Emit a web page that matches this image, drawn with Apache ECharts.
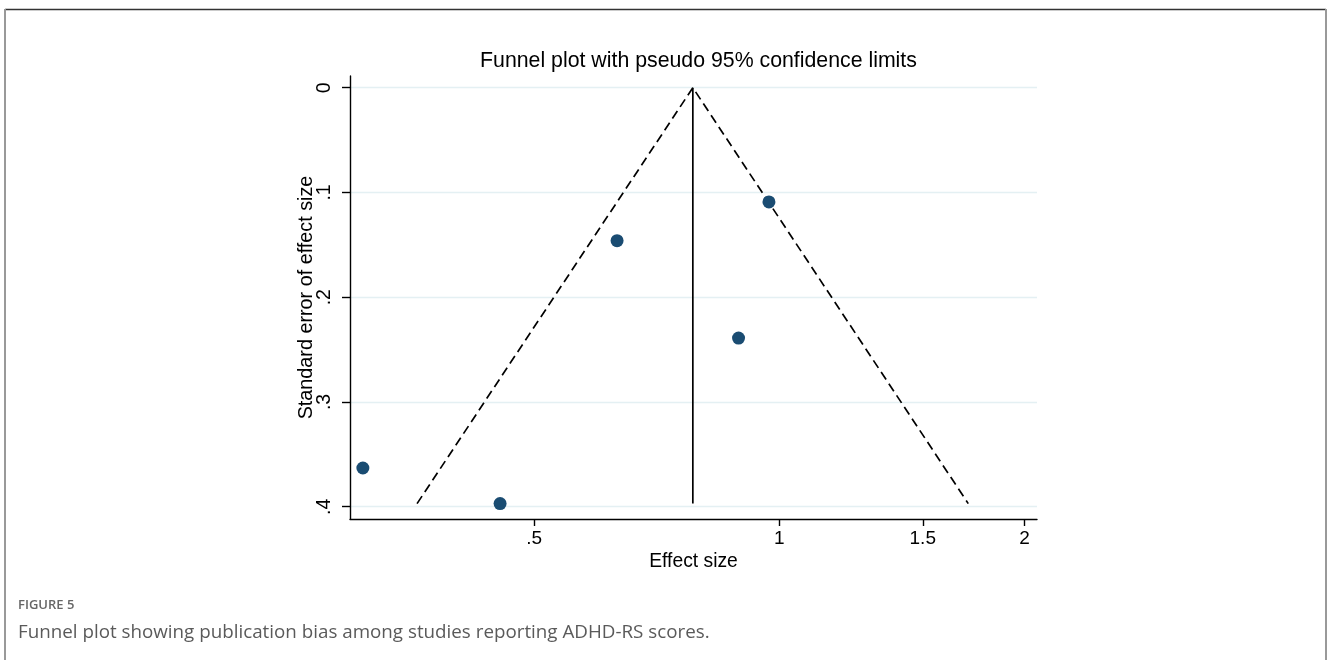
<!DOCTYPE html>
<html>
<head>
<meta charset="utf-8">
<script src="https://cdn.jsdelivr.net/npm/echarts@6/dist/echarts.min.js"></script>
<style>
  html, body { margin: 0; padding: 0; background: #fff; }
  #chart { width: 1328px; height: 660px; }
</style>
</head>
<body>
<div id="chart"></div>
<script>
// ---- data ----
const titleText = 'Funnel plot with pseudo 95% confidence limits';
const xAxisName = 'Effect size';
const yAxisName = 'Standard error of effect size';
const captionLabel = 'FIGURE 5';
const captionText = 'Funnel plot showing publication bias among studies reporting ADHD-RS scores.';

// studies: effect size (log-scaled axis) and standard error
const effectSizes = [0.308, 0.454, 0.632, 0.971, 0.891];
const standardErrors = [0.363, 0.397, 0.146, 0.109, 0.239];

// pooled estimate and pseudo 95% limits at the largest SE
const pooledEffect = 0.783;
const maxSE = 0.397;
const lowerLimitAtMaxSE = 0.359;
const upperLimitAtMaxSE = 1.706;

// tick values
const xTicks = [0.5, 1, 1.5, 2];
const yTicks = [0, 0.1, 0.2, 0.3, 0.4];

const scatterData = effectSizes.map((x, i) => [x, standardErrors[i]]);
const funnelData = [[lowerLimitAtMaxSE, maxSE], [pooledEffect, 0], [upperLimitAtMaxSE, maxSE]];
const pooledLine = [[pooledEffect, 0], [pooledEffect, maxSE]];

const fmtNum = v => {
  const s = String(+v.toFixed(2));
  return s.startsWith('0.') ? s.slice(1) : s;
};

const chart = echarts.init(document.getElementById('chart'), null, { renderer: 'canvas' });
const font = 'Liberation Sans, Arial, Helvetica, sans-serif';
const capFont = 'Open Sans, Lato, sans-serif';

chart.setOption({
  backgroundColor: '#ffffff',
  animation: false,
  title: {
    text: titleText,
    left: 693.5,
    textAlign: 'center',
    top: 46,
    textStyle: { fontFamily: font, fontSize: 21.3, fontWeight: 'normal', color: '#000' }
  },
  grid: { left: 350, top: 76, right: 291, bottom: 141, containLabel: false },
  xAxis: {
    type: 'log',
    logBase: 10,
    min: 0.297,
    max: 2.072,
    name: xAxisName,
    nameLocation: 'middle',
    nameGap: 33,
    nameMoveOverlap: false,
    nameTextStyle: { fontFamily: font, fontSize: 19.3, color: '#000', verticalAlign: 'top' },
    axisLine: { show: true, onZero: false, lineStyle: { color: '#000', width: 1.4 } },
    axisTick: { show: true, length: 7, customValues: xTicks, lineStyle: { color: '#000', width: 1.4 } },
    axisLabel: { customValues: xTicks, formatter: fmtNum, margin: 10, fontFamily: font, fontSize: 19, color: '#000' },
    splitLine: { show: false },
    minorTick: { show: false },
    minorSplitLine: { show: false }
  },
  yAxis: {
    type: 'value',
    inverse: true,
    min: -0.0112,
    max: 0.4117,
    name: yAxisName,
    nameLocation: 'middle',
    nameRotate: 90,
    nameGap: 33,
    nameMoveOverlap: false,
    nameTextStyle: { fontFamily: font, fontSize: 19.8, color: '#000' },
    axisLine: { show: true, onZero: false, lineStyle: { color: '#000', width: 1.4 } },
    axisTick: { show: true, length: 8, customValues: yTicks, lineStyle: { color: '#000', width: 1.4 } },
    axisLabel: { customValues: yTicks, rotate: 90, formatter: fmtNum, margin: 15, fontFamily: font, fontSize: 19.5, color: '#000' },
    splitLine: { show: true, lineStyle: { color: '#e4f0f3', width: 1.4 } }
  },
  series: [
    {
      type: 'line',
      name: 'pseudo 95% limits',
      data: funnelData,
      symbol: 'none',
      lineStyle: { color: '#000', width: 1.7, type: [9, 5] },
      z: 2
    },
    {
      type: 'line',
      name: 'pooled',
      data: pooledLine,
      symbol: 'none',
      lineStyle: { color: '#000', width: 1.7 },
      z: 2
    },
    {
      type: 'scatter',
      name: 'studies',
      data: scatterData,
      symbol: 'circle',
      symbolSize: 13,
      itemStyle: { color: '#1a4c72', opacity: 1 },
      z: 3
    }
  ],
  graphic: [
    { type: 'line', shape: { x1: 5, y1: 9.5, x2: 1326, y2: 9.5 }, style: { stroke: '#333', lineWidth: 1.5 } },
    { type: 'line', shape: { x1: 5, y1: 9, x2: 5, y2: 660 }, style: { stroke: '#999', lineWidth: 2 } },
    { type: 'line', shape: { x1: 1326, y1: 9, x2: 1326, y2: 660 }, style: { stroke: '#999', lineWidth: 2 } },
    { type: 'text', left: 18, top: 599, style: { text: captionLabel, fontFamily: capFont, fontSize: 13, fontWeight: 600, fill: '#666' } },
    { type: 'text', left: 18, top: 623, style: { text: captionText, fontFamily: capFont, fontSize: 18.8, fontWeight: 400, fill: '#5a5a5a' } }
  ]
});
</script>
</body>
</html>
